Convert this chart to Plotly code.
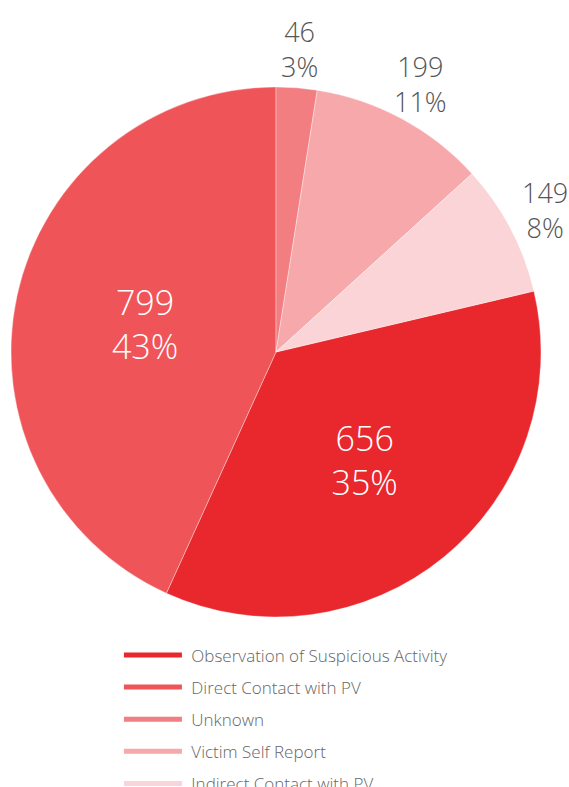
import math
import plotly.graph_objects as go

# Detection source breakdown
categories = [
    "Observation of Suspicious Activity",
    "Direct Contact with PV",
    "Unknown",
    "Victim Self Report",
    "Indirect Contact with PV",
]
counts = [656, 799, 46, 199, 149]
percent_labels = ["35%", "43%", "3%", "11%", "8%"]
colors = ["#E9282D", "#EF5459", "#F27E81", "#F6A8AA", "#FAD4D6"]
inside = [True, True, False, False, False]

label_font = "Open Sans"
W, H = 569, 787
dom_x = [11 / W, 541 / W]
dom_y = [170 / H, 700 / H]

total = sum(counts)
# first slice starts where the three small categories end (clockwise from 12 o'clock)
start_angle = sum(counts[2:]) / total * 360

fig = go.Figure()

fig.add_trace(go.Pie(
    labels=categories,
    values=counts,
    text=[p if ins else "" for p, ins in zip(percent_labels, inside)],
    texttemplate=["%{value}<br>%{text}" if ins else "" for ins in inside],
    textposition="inside",
    insidetextorientation="horizontal",
    insidetextfont=dict(family=label_font, size=34, color="white", weight=300),
    marker=dict(colors=colors, line=dict(color="rgba(255,255,255,0.6)", width=0.6)),
    sort=False,
    direction="clockwise",
    rotation=start_angle,
    showlegend=False,
    hoverinfo="label+value+percent",
    domain=dict(x=dom_x, y=dom_y),
))

# outside labels for the narrow slices, set out along each slice's mid-angle
cx = (dom_x[0] + dom_x[1]) / 2 * W
cy = (dom_y[0] + dom_y[1]) / 2 * H
radius = (dom_x[1] - dom_x[0]) * W / 2
label_r = radius + 39
cum = 0
for val, pct, ins in zip(counts, percent_labels, inside):
    mid = math.radians(start_angle + (cum + val / 2) / total * 360)
    cum += val
    if ins:
        continue
    fig.add_annotation(
        x=(cx + label_r * math.sin(mid)) / W,
        y=(cy + label_r * math.cos(mid)) / H,
        xref="paper", yref="paper",
        xanchor="center", yanchor="middle",
        text=f"{val}<br>{pct}",
        showarrow=False,
        font=dict(family=label_font, size=27, color="#555555", weight=300),
    )

# legend entries drawn as line keys, one group each so the rows can be spaced
for name, col in zip(categories, colors):
    fig.add_trace(go.Scatter(
        x=[None], y=[None], mode="lines", name="\u00a0" + name,
        legendgroup=name,
        line=dict(color=col, width=5),
        hoverinfo="skip",
    ))

fig.update_layout(
    width=W,
    height=H,
    margin=dict(l=0, r=0, t=0, b=0, autoexpand=False),
    paper_bgcolor="white",
    plot_bgcolor="white",
    xaxis=dict(visible=False),
    yaxis=dict(visible=False),
    legend=dict(
        x=0.209, y=0.19, xanchor="left", yanchor="top",
        font=dict(family=label_font, size=17, color="#666666", weight=300),
        itemwidth=58,
        tracegroupgap=7,
        bgcolor="rgba(0,0,0,0)",
    ),
)

fig.write_html("out.html")
